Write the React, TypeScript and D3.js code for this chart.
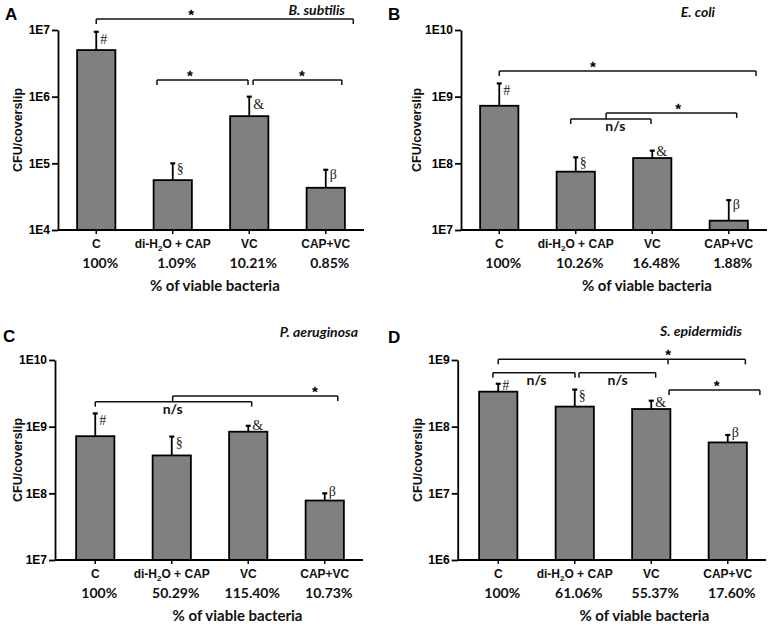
import React, { useEffect, useRef } from "react";
import * as d3 from "d3";

// ---------- data ----------
const categories = ["C", "di-H2O + CAP", "VC", "CAP+VC"];
const markers = ["#", "§", "&", "β"];

const meanA = [5.0e6, 5.6e4, 5.1e5, 4.3e4];
const upperA = [9.4e6, 1.0e5, 1.0e6, 8.0e4];
const pctA = ["100%", "1.09%", "10.21%", "0.85%"];
const ticksA = [1e4, 1e5, 1e6, 1e7];

const meanB = [7.3e8, 7.5e7, 1.2e8, 1.38e7];
const upperB = [1.58e9, 1.23e8, 1.55e8, 2.8e7];
const pctB = ["100%", "10.26%", "16.48%", "1.88%"];
const ticksB = [1e7, 1e8, 1e9, 1e10];

const meanC = [7.2e8, 3.7e8, 8.4e8, 7.8e7];
const upperC = [1.58e9, 7.1e8, 1.03e9, 1.0e8];
const pctC = ["100%", "50.29%", "115.40%", "10.73%"];
const ticksC = [1e7, 1e8, 1e9, 1e10];

const meanD = [3.35e8, 2.0e8, 1.84e8, 5.8e7];
const upperD = [4.4e8, 3.6e8, 2.45e8, 7.5e7];
const pctD = ["100%", "61.06%", "55.37%", "17.60%"];
const ticksD = [1e6, 1e7, 1e8, 1e9];

const titles = ["B. subtilis", "E. coli", "P. aeruginosa", "S. epidermidis"];
const letters = ["A", "B", "C", "D"];
const xTitle = "% of viable bacteria";
const yTitle = "CFU/coverslip";

// significance brackets: x in bar-position units (0..3), y in log10 units
type Bracket = {
  x1: number;
  x2: number;
  y: number;
  drops: [number, number | null][];
  label: string;
  lx: number;
};
const bracketsA: Bracket[] = [
  { x1: 0, x2: 3.36, y: 7.165, drops: [[0, null], [3.36, null]], label: "*", lx: 1.24 },
  { x1: 0.794, x2: 1.984, y: 6.25, drops: [[0.794, null], [1.984, null]], label: "*", lx: 1.226 },
  { x1: 2.05, x2: 3.21, y: 6.25, drops: [[2.05, null], [3.21, null]], label: "*", lx: 2.69 },
];
const bracketsB: Bracket[] = [
  { x1: 0, x2: 3.357, y: 9.385, drops: [[0, null], [3.357, null]], label: "*", lx: 1.225 },
  { x1: 0.934, x2: 1.984, y: 8.665, drops: [[0.934, null], [1.984, null]], label: "n/s", lx: 1.517 },
  { x1: 1.397, x2: 3.104, y: 8.755, drops: [[1.397, 8.665], [3.104, null]], label: "*", lx: 2.34 },
];
const bracketsC: Bracket[] = [
  { x1: 0, x2: 2.045, y: 9.375, drops: [[0, null], [2.045, null]], label: "n/s", lx: 1.012 },
  { x1: 1.012, x2: 3.17, y: 9.46, drops: [[1.012, 9.375], [3.17, null]], label: "*", lx: 2.87 },
];
const bracketsD: Bracket[] = [
  { x1: 0, x2: 3.23, y: 9.01, drops: [[0, null], [2.22, null], [3.23, null]], label: "*", lx: 2.22 },
  { x1: -0.07, x2: 1.003, y: 8.81, drops: [[-0.07, null], [1.003, null]], label: "n/s", lx: 0.5 },
  { x1: 1.056, x2: 2.058, y: 8.81, drops: [[1.056, null], [2.058, null]], label: "n/s", lx: 1.56 },
  { x1: 2.232, x2: 3.42, y: 8.55, drops: [[2.232, null], [3.42, null]], label: "*", lx: 2.856 },
];

// ---------- layout ----------
const panels = [
  { mean: meanA, upper: upperA, pct: pctA, ticks: ticksA, brackets: bracketsA, left: 58, top: 30, bottom: 230, bandStart: 58, bandEnd: 364, letterX: 5, letterY: 20, titleX: 345, titleY: 15, ylabX: 22, xTitleF: 1.55 },
  { mean: meanB, upper: upperB, pct: pctB, ticks: ticksB, brackets: bracketsB, left: 461, top: 30, bottom: 230, bandStart: 461, bandEnd: 767, letterX: 388, letterY: 20, titleX: 715, titleY: 17, ylabX: 421, xTitleF: 1.93 },
  { mean: meanC, upper: upperC, pct: pctC, ticks: ticksC, brackets: bracketsC, left: 55, top: 360, bottom: 560, bandStart: 57, bandEnd: 363, letterX: 3, letterY: 342, titleX: 358, titleY: 337, ylabX: 22, xTitleF: 1.86 },
  { mean: meanD, upper: upperD, pct: pctD, ticks: ticksD, brackets: bracketsD, left: 457.7, top: 360, bottom: 560, bandStart: 460, bandEnd: 766, letterX: 388, letterY: 343, titleX: 742, titleY: 336, ylabX: 422, xTitleF: 1.91 },
];

const SANS = "'Liberation Sans', Arial, sans-serif";
const CALI = "Lato, 'Open Sans', sans-serif";
const SERIF = "'Liberation Serif', 'Times New Roman', serif";
const DESC: Record<string, number> = { "β": 3, "§": 2 };

function drawPanel(svg: any, p: any, idx: number) {
  const g = svg.append("g");
  const y = d3.scaleLog().domain([p.ticks[0], p.ticks[p.ticks.length - 1]]).range([p.bottom, p.top]);
  const x = d3.scaleBand().domain(categories).range([p.bandStart, p.bandEnd]).paddingInner(0.5).paddingOuter(0.25);
  const bw = x.bandwidth();
  const step = x.step();
  const c0 = (x(categories[0]) as number) + bw / 2;
  const fx = (f: number) => c0 + f * step;
  const ly = (v: number) => y(Math.pow(10, v));

  // bars
  g.selectAll("rect.bar")
    .data(p.mean)
    .enter()
    .append("rect")
    .attr("x", (_: any, i: number) => x(categories[i]))
    .attr("y", (d: number) => y(d))
    .attr("width", bw)
    .attr("height", (d: number) => p.bottom - y(d))
    .attr("fill", "#808080")
    .attr("stroke", "#000")
    .attr("stroke-width", 1.8);

  // error bars
  p.mean.forEach((m: number, i: number) => {
    const cx = (x(categories[i]) as number) + bw / 2;
    const yt = y(p.upper[i]);
    const yb = y(m);
    g.append("line").attr("x1", cx).attr("x2", cx).attr("y1", yb).attr("y2", yt).attr("stroke", "#000").attr("stroke-width", 1.8);
    g.append("line").attr("x1", cx - 2.5).attr("x2", cx + 2.5).attr("y1", yt).attr("y2", yt).attr("stroke", "#000").attr("stroke-width", 2.2);
    const bottomEdge = Math.min(yt + 12, yb - 2);
    g.append("text")
      .attr("x", cx + 4)
      .attr("y", bottomEdge - (DESC[markers[i]] || 0))
      .attr("font-family", SERIF)
      .attr("font-size", 14)
      .attr("fill", "#222")
      .text(markers[i]);
  });

  // y axis
  const ya = d3
    .axisLeft(y)
    .tickValues(p.ticks)
    .tickFormat((d: any) => "1E" + Math.round(Math.log10(d)))
    .tickSize(6)
    .tickSizeOuter(0)
    .tickPadding(2);
  const yg = g.append("g").attr("transform", `translate(${p.left},0)`).call(ya);
  yg.select(".domain").attr("stroke-width", 1.8);
  yg.selectAll(".tick line").attr("stroke-width", 1.8);
  yg.selectAll(".tick text").attr("font-family", SANS).attr("font-weight", "bold").attr("font-size", 12).attr("fill", "#000");

  // x axis
  const xa = d3.axisBottom(x).tickSize(4).tickSizeOuter(0).tickFormat(() => "");
  const xg = g.append("g").attr("transform", `translate(0,${p.bottom})`).call(xa);
  xg.select(".domain").remove();
  xg.selectAll(".tick line").attr("stroke-width", 1.5);
  g.append("line").attr("x1", p.left).attr("x2", p.bandEnd).attr("y1", p.bottom).attr("y2", p.bottom).attr("stroke", "#000").attr("stroke-width", 1.8);

  // category labels
  categories.forEach((c, i) => {
    const cx = (x(c) as number) + bw / 2;
    const t = g.append("text")
      .attr("x", cx)
      .attr("y", p.bottom + 18)
      .attr("text-anchor", "middle")
      .attr("font-family", SANS)
      .attr("font-weight", "bold")
      .attr("font-size", 12)
      .attr("fill", "#111");
    if (c.includes("H2O")) {
      const [a, b] = c.split("H2O");
      t.append("tspan").text(a + "H");
      t.append("tspan").attr("dy", 3).attr("font-size", 8).text("2");
      t.append("tspan").attr("dy", -3).text("O" + b);
    } else {
      t.text(c);
    }
    g.append("text")
      .attr("x", cx + 4)
      .attr("y", p.bottom + 38)
      .attr("text-anchor", "middle")
      .attr("font-family", CALI)
      .attr("font-weight", "bold")
      .attr("font-size", 14)
      .attr("fill", "#111")
      .text(p.pct[i]);
  });

  g.append("text")
    .attr("x", fx(p.xTitleF))
    .attr("y", p.bottom + 61)
    .attr("text-anchor", "middle")
    .attr("font-family", CALI)
    .attr("font-weight", "bold")
    .attr("font-size", 15)
    .attr("fill", "#111")
    .text(xTitle);

  // y title
  const ymid = (p.top + p.bottom) / 2;
  g.append("text")
    .attr("transform", `translate(${p.ylabX},${ymid}) rotate(-90)`)
    .attr("text-anchor", "middle")
    .attr("font-family", SANS)
    .attr("font-weight", "bold")
    .attr("font-size", 12.5)
    .attr("fill", "#111")
    .text(yTitle);

  // panel letter & title
  g.append("text")
    .attr("x", p.letterX)
    .attr("y", p.letterY)
    .attr("font-family", SANS)
    .attr("font-weight", "bold")
    .attr("font-size", 17)
    .attr("fill", "#000")
    .text(letters[idx]);
  g.append("text")
    .attr("x", p.titleX)
    .attr("y", p.titleY)
    .attr("text-anchor", "end")
    .attr("font-family", CALI)
    .attr("font-weight", "bold")
    .attr("font-style", "italic")
    .attr("font-size", 14)
    .attr("fill", "#111")
    .text(titles[idx]);

  // brackets
  p.brackets.forEach((b: Bracket) => {
    const by = ly(b.y);
    g.append("line").attr("x1", fx(b.x1)).attr("x2", fx(b.x2)).attr("y1", by).attr("y2", by).attr("stroke", "#111").attr("stroke-width", 1.5);
    b.drops.forEach(([f, to]) => {
      const y2 = to === null ? by + 5 : ly(to);
      g.append("line").attr("x1", fx(f)).attr("x2", fx(f)).attr("y1", by).attr("y2", y2).attr("stroke", "#111").attr("stroke-width", 1.5);
    });
    if (b.label === "*") {
      g.append("text")
        .attr("x", fx(b.lx))
        .attr("y", by + 1)
        .attr("text-anchor", "middle")
        .attr("font-family", SANS)
        .attr("font-weight", "bold")
        .attr("font-size", 15)
        .attr("fill", "#000")
        .style("text-rendering", "geometricPrecision")
        .text("*");
    } else {
      g.append("text")
        .attr("x", fx(b.lx))
        .attr("y", by + 12)
        .attr("text-anchor", "middle")
        .attr("font-family", CALI)
        .attr("font-weight", "bold")
        .attr("font-size", 14)
        .attr("fill", "#111")
        .text(b.label);
    }
  });
}

export default function App() {
  const ref = useRef<SVGSVGElement>(null);
  useEffect(() => {
    const svg = d3.select(ref.current);
    svg.selectAll("*").remove();
    svg.append("rect").attr("width", 773).attr("height", 629).attr("fill", "#fff");
    panels.forEach((p, i) => drawPanel(svg, p, i));
  }, []);
  return (
    <svg
      ref={ref}
      width={773}
      height={629}
      style={{ position: "absolute", left: 0, top: 0, display: "block" }}
    />
  );
}
